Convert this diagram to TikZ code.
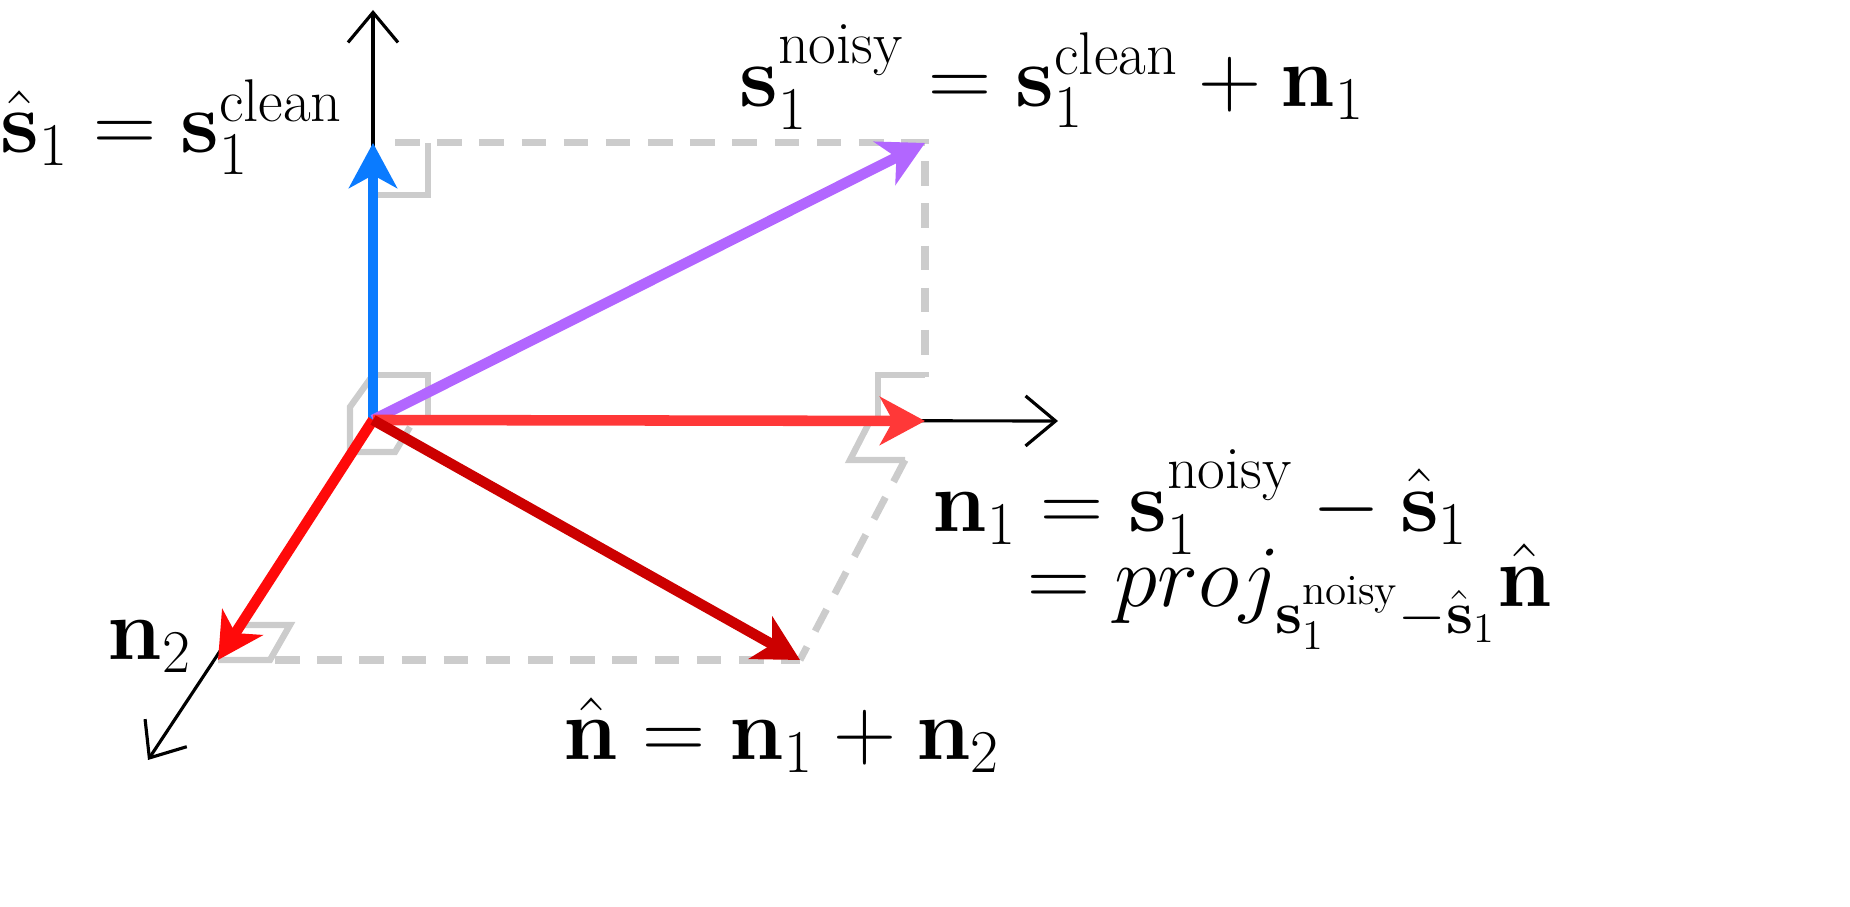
\documentclass[tikz,border=0pt]{standalone}
\usepackage{amsmath}
\usetikzlibrary{arrows.meta}
\definecolor{cblue}{HTML}{0A7BFF}
\definecolor{cpurple}{HTML}{B266FF}
\definecolor{cred}{HTML}{FF3838}
\definecolor{cnred}{HTML}{FF0A0A}
\definecolor{cdark}{HTML}{CC0000}
\definecolor{cgray}{HTML}{CCCCCC}
\begin{document}
\begin{tikzpicture}[every node/.style={font=\fontsize{24.5}{29}\selectfont},
    axis/.style={-{Straight Barb[length=3mm,width=5mm]}, line width=0.9pt},
    vec/.style={-{Stealth[length=4.5mm,width=4.8mm,inset=1.3mm]}, line width=3pt},
    guide/.style={cgray, line width=2pt, dash pattern=on 7pt off 5pt},
    rmark/.style={cgray, line width=1.8pt}]
            \useasboundingbox (0,0) rectangle (18.5,9.07);
            % Punkte
            \coordinate (o) at (3.73,4.87);
            \coordinate (s) at (3.73,7.64);
            \coordinate (p) at (9.25,7.64);
            \coordinate (m) at (9.25,4.86);
            \coordinate (k) at (2.18,2.47);
            \coordinate (h) at (8.0,2.47);
            \coordinate (ay) at (3.73,8.97);
            \coordinate (ax) at (10.58,4.86);
            \coordinate (az) at (1.48,1.47);

            % Hilfslinien
            \draw[guide] (3.95,7.64) -- (p) -- (9.25,5.3);
            \draw[guide] (9.05,4.47) -- (h);
            \draw[guide] (2.75,2.47) -- (h);
            \draw[rmark] (3.73,7.12) -- (4.28,7.12) -- (4.28,7.64);
            \draw[rmark] (8.78,4.86) -- (8.78,5.32) -- (9.25,5.32);
            \draw[rmark] (9.05,4.47) -- (8.5,4.47) -- (8.7,4.86);
            \draw[rmark] (2.18,2.47) -- (2.7,2.47) -- (2.9,2.82) -- (2.4,2.82);
            \draw[rmark] (3.73,5.32) -- (4.28,5.32) -- (4.28,4.9);
            \draw[rmark] (3.73,5.32) -- (3.5,5.0) -- (3.5,4.55) -- (3.95,4.55) -- (4.1,4.8);

            % Achsen
            \draw[axis] (o) -- (ay);
            \draw[axis] (o) -- (ax);
            \draw[axis] (o) -- (az);

            % Vektoren
            \draw[vec, cblue] (o) -- (s);
            \draw[vec, cpurple] (o) -- (p);
            \draw[vec, cred] (o) -- (m);
            \draw[vec, cnred] (o) -- (k);
            \draw[vec, cdark] (o) -- (h);

            % Beschriftungen
            \node[anchor=west] (ls) at (-0.12,7.8) {$\hat{\mathbf s}_1 = \mathbf s_1^{\text{clean}}$};
            \node (lp) at (10.52,8.3) {$\mathbf s_1^{\text{noisy}} = \mathbf s_1^{\text{clean}} + \mathbf n_1$};
            \node[anchor=west] (lm) at (9.2,4.05) {$\mathbf n_1 = \mathbf s_1^{\text{noisy}} - \hat{\mathbf s}_1$};
            \node[anchor=west] (lq) at (10.15,3.1) {$= proj_{\mathbf s_1^{\text{noisy}}-\hat{\mathbf s}_1}\hat{\mathbf n}$};
            \node (lk) at (1.5,2.6) {$\mathbf n_2$};
            \node (lh) at (7.82,1.72) {$\hat{\mathbf n} = \mathbf n_1 + \mathbf n_2$};
          \end{tikzpicture}
\end{document}
